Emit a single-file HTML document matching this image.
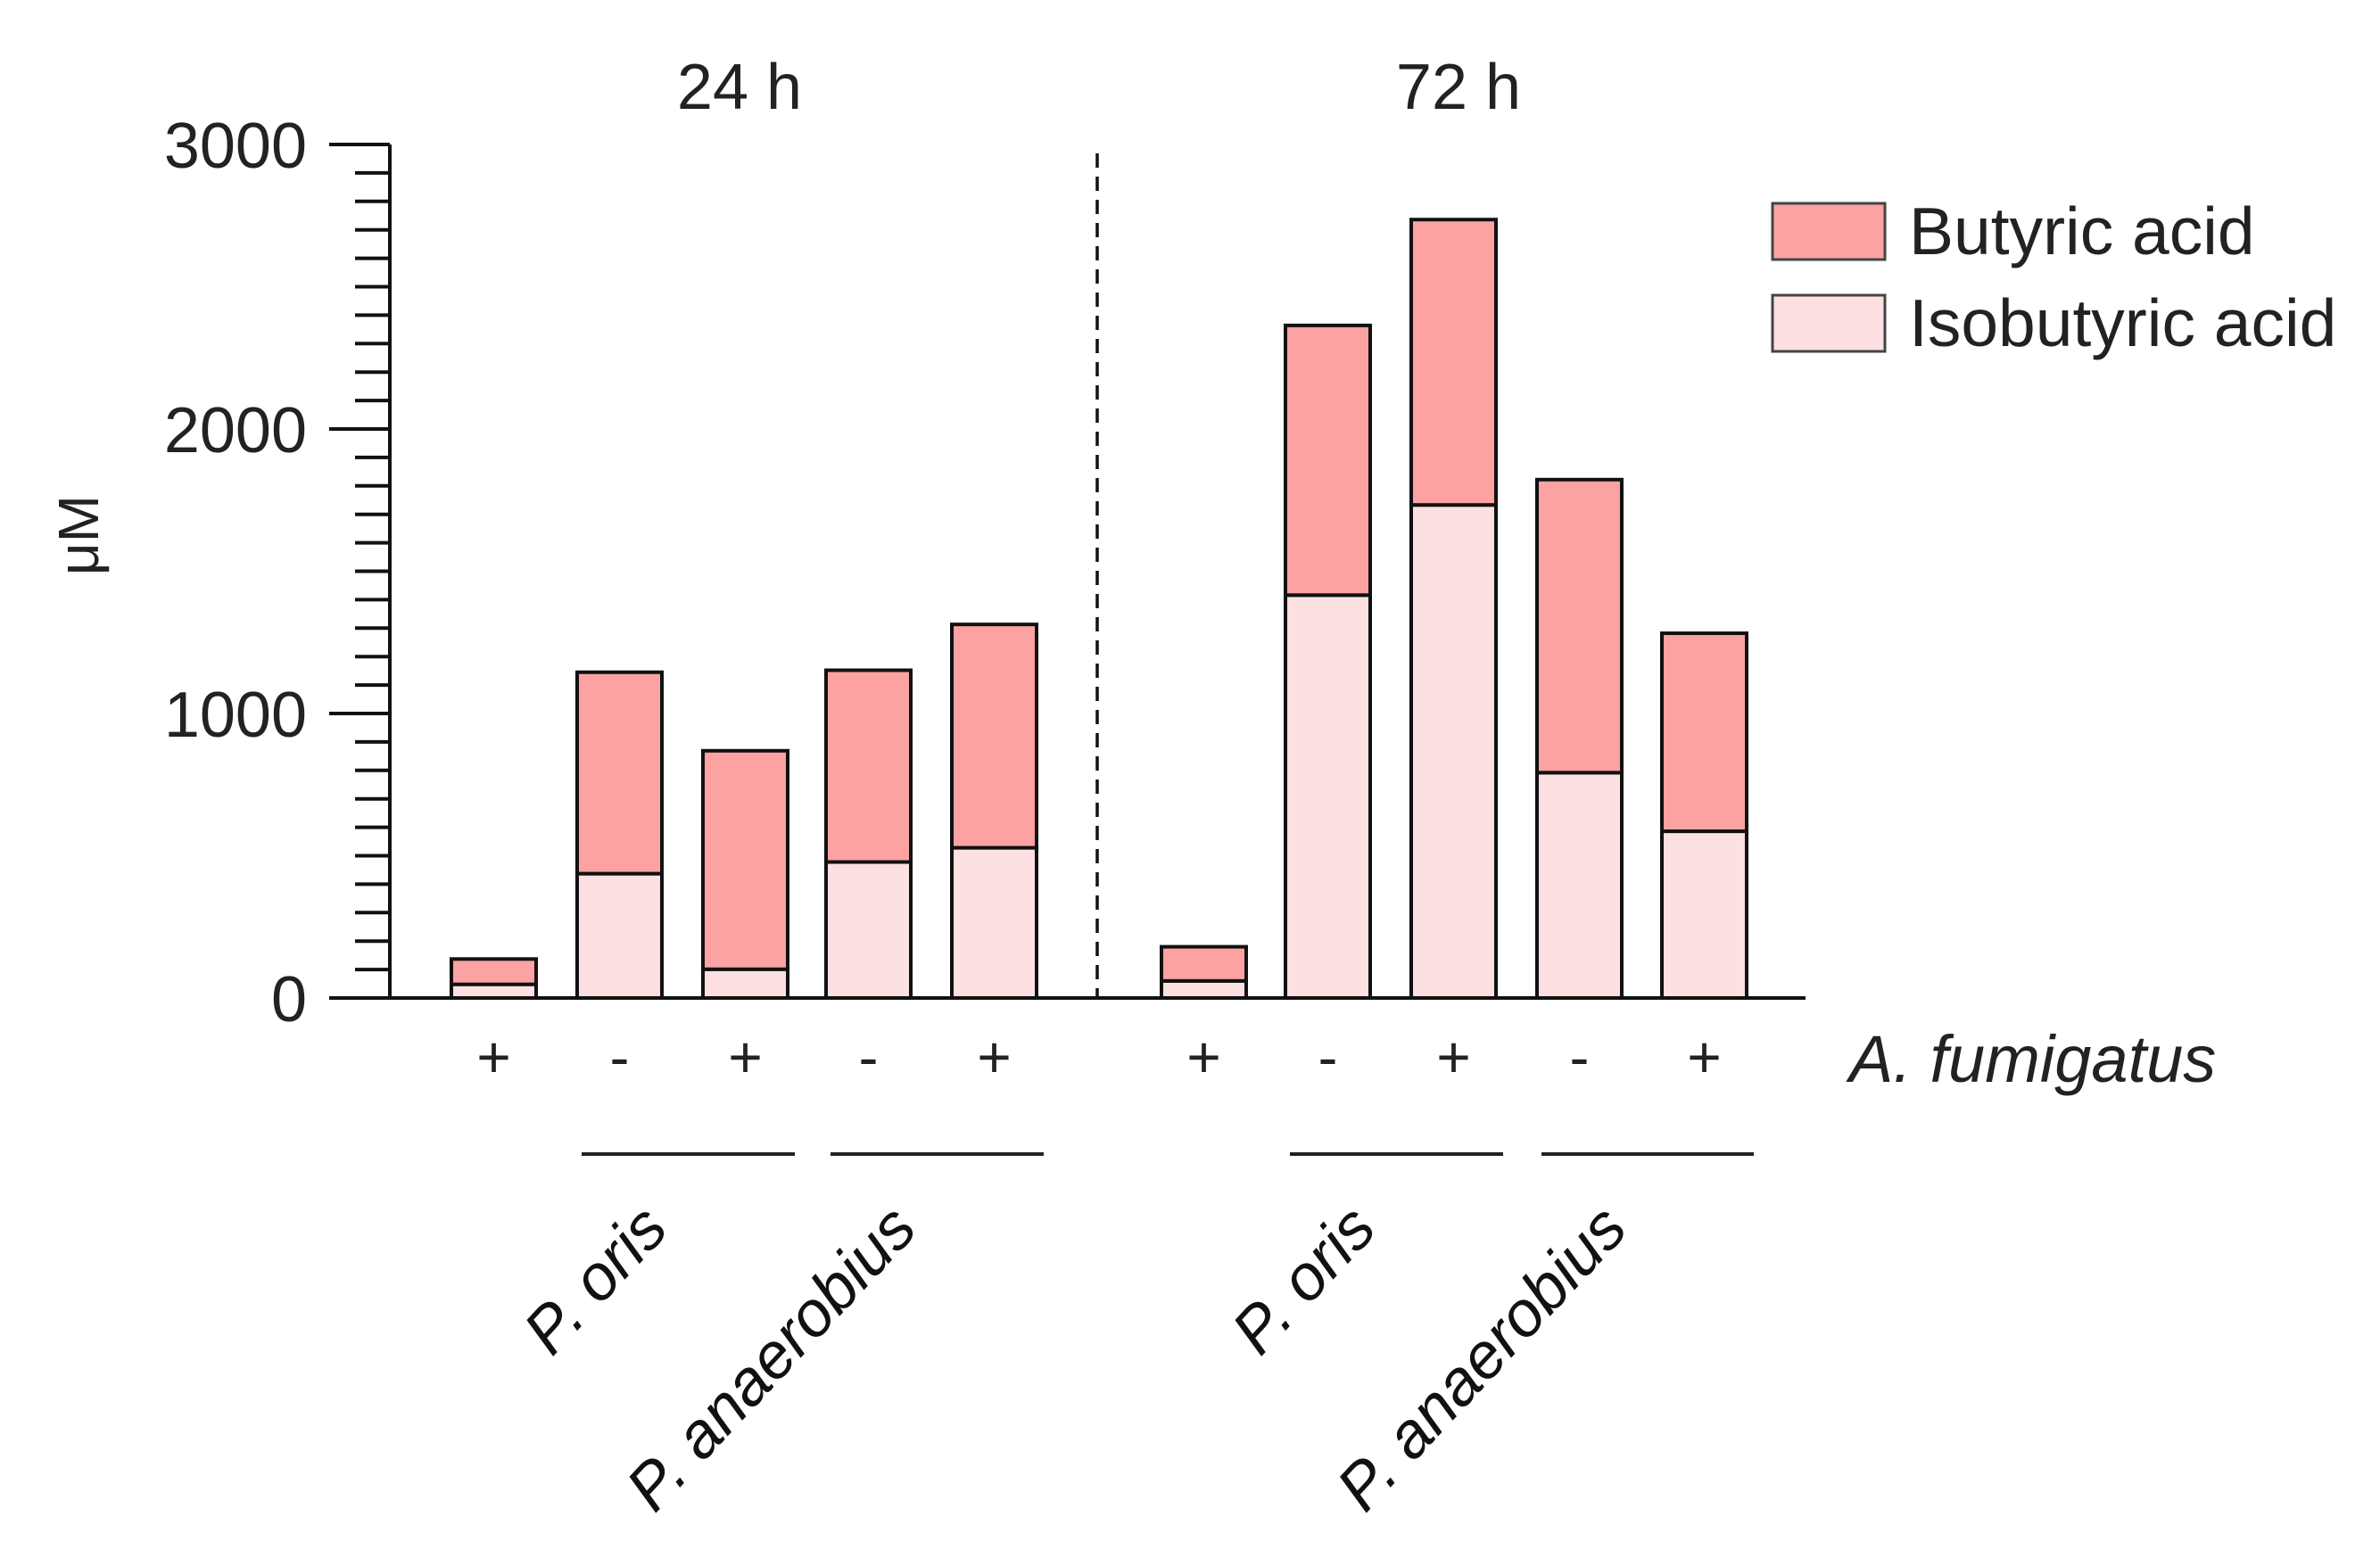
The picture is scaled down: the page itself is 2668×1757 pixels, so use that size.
<!DOCTYPE html>
<html><head><meta charset="utf-8"><style>
html,body{margin:0;padding:0;background:#fff}
svg{display:block;font-family:"Liberation Sans",Arial,sans-serif}
</style></head><body>
<svg id="chart" width="2668" height="1757" viewBox="0 0 2668 1757" xmlns="http://www.w3.org/2000/svg">
<g id="axes"></g>
<g id="bars"></g>
<g id="labels"></g>
</svg>
<script>
const categories = ["24h-ctrl","24h-oris-","24h-oris+","24h-anaer-","24h-anaer+","72h-ctrl","72h-oris-","72h-oris+","72h-anaer-","72h-anaer+"];
const isobutyric = [48,437,101,478,528,60,1416,1733,792,586];
const totals = [137,1145,869,1152,1313,180,2364,2736,1822,1282];
const fumigatus = ["+","-","+","-","+","+","-","+","-","+"];
const yTicks = [0,1000,2000,3000];
const groupLabels = ["P. oris","P. anaerobius","P. oris","P. anaerobius"];
const timeLabels = ["24 h","72 h"];

const NS="http://www.w3.org/2000/svg";
const y0=1119, yTop=162, vmax=3000;
function yScale(v){return y0-(v/vmax)*(y0-yTop);}
const barLeft=[506,647,788,926,1067,1302,1441,1582,1723,1863];
function xCenter(i){return barLeft[i]+47.5;}
const bw=95;
function mk(tag,attrs,parent,txt){const e=document.createElementNS(NS,tag);for(const k in attrs)e.setAttribute(k,attrs[k]);if(txt!==undefined)e.textContent=txt;parent.appendChild(e);return e;}
const axes=document.getElementById('axes'),bars=document.getElementById('bars'),labels=document.getElementById('labels');

let ya=mk('line',{x1:437,y1:yTop,x2:437,y2:y0,stroke:'#111','stroke-width':4},axes);


for(let v=0;v<=vmax;v+=100){
  const major=v%1000===0;
  let t=mk('line',{x1:major?369:398,y1:yScale(v),x2:437,y2:yScale(v),stroke:'#111','stroke-width':4},axes);
  
  
}
yTicks.forEach(v=>{
  let t=mk('text',{x:344,y:yScale(v)+26,'text-anchor':'end','font-size':72,fill:'#222'},labels,String(v));
  
  
});
let xa=mk('line',{x1:369,y1:y0,x2:2024,y2:y0,stroke:'#111','stroke-width':4},axes);


let yt=mk('text',{x:0,y:0,'text-anchor':'middle','font-size':64,fill:'#222',transform:'translate(110,600) rotate(-90)'},labels,'μM');


let dl=mk('line',{x1:1230,y1:172,x2:1230,y2:y0,stroke:'#111','stroke-width':3.5,'stroke-dasharray':'16,10'},axes);



categories.forEach((c,i)=>{
  const x=barLeft[i];
  let r1=mk('rect',{x:x,y:yScale(isobutyric[i]),width:bw,height:y0-yScale(isobutyric[i]),fill:'#fde0e1',stroke:'#111','stroke-width':4},bars);
  
  
  let r2=mk('rect',{x:x,y:yScale(totals[i]),width:bw,height:yScale(isobutyric[i])-yScale(totals[i]),fill:'#fca2a3',stroke:'#111','stroke-width':4},bars);
  
  
  let s=mk('text',{x:xCenter(i),y:1208,'text-anchor':'middle','font-size':66,fill:'#222'},labels,fumigatus[i]);
  
  
});
let af=mk('text',{x:2073,y:1213,'font-size':74,'font-style':'italic',fill:'#222'},labels,'A. fumigatus');



const groupPairs=[[1,2],[3,4],[6,7],[8,9]];
groupPairs.forEach((p,g)=>{
  const x1=barLeft[p[0]]+5, x2=barLeft[p[1]]+bw+8;
  let l=mk('line',{x1:x1,y1:1294,x2:x2,y2:1294,stroke:'#222','stroke-width':4},labels);
  
  
  const ex=(x1+x2)/2-20, ey=1380;
  let t=mk('text',{x:0,y:0,'text-anchor':'end','font-size':72,'font-style':'italic',fill:'#111',transform:`translate(${ex},${ey}) rotate(-47)`},labels,groupLabels[g]);
  
  
});
timeLabels.forEach((s,k)=>{
  let t=mk('text',{x:k===0?829:1635,y:122,'text-anchor':'middle','font-size':72,fill:'#222'},labels,s);
  
  
});

const legend=mk('g',{},labels);


[['Butyric acid','#fca2a3',228],['Isobutyric acid','#fde0e1',331]].forEach(([n,c,y])=>{
  let r=mk('rect',{x:1987,y:y,width:126,height:63,fill:c,stroke:'#444','stroke-width':3},legend);
  
  
  let t=mk('text',{x:2140,y:y+57,'font-size':75,fill:'#222'},legend,n);
  
  
});
</script>
</body></html>
